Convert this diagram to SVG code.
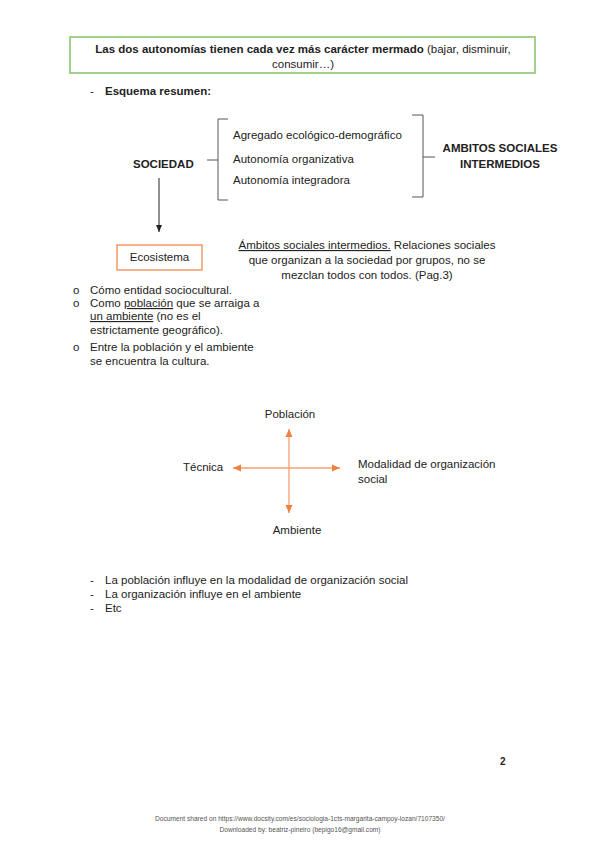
<svg xmlns="http://www.w3.org/2000/svg" width="599" height="848" viewBox="0 0 599 848">
<style>
text{font-family:"Liberation Sans",Arial,sans-serif;font-size:11.5px;fill:#222}
.b{font-weight:bold}
.c{text-anchor:middle}
.u{text-decoration:underline}
.br{fill:none;stroke:#555;stroke-width:1}
.or{stroke:#f4a070;stroke-width:1.3;fill:none}
.ft{font-size:6.6px;fill:#555}
</style>
<defs>
<marker id="ab" markerWidth="8" markerHeight="8" refX="7" refY="4" orient="auto" markerUnits="userSpaceOnUse"><path d="M0,1 L7,4 L0,7z" fill="#222"/></marker>
<marker id="ao" markerWidth="10" markerHeight="10" refX="8" refY="4" orient="auto" markerUnits="userSpaceOnUse"><path d="M0,0.5 L8,4 L0,7.5z" fill="#f08040"/></marker>
</defs>
<rect width="599" height="848" fill="#fff"/>
<g id="title">
<rect x="70" y="37" width="465" height="36" fill="#fff" stroke="#8cc66a" stroke-width="1.6"/>
<text x="303" y="53" class="c"><tspan class="b">Las dos autonomías tienen cada vez más carácter mermado</tspan> (bajar, disminuir,</text>
<text x="303" y="68" class="c">consumir…)</text>
</g>
<g id="esquema">
<text x="90" y="95">-</text>
<text x="105" y="95" class="b">Esquema resumen:</text>
</g>
<g id="sociedad"><text x="133" y="168" class="b">SOCIEDAD</text></g>
<g id="items">
<text x="233" y="139">Agregado ecológico-demográfico</text>
<text x="233" y="163">Autonomía organizativa</text>
<text x="233" y="184">Autonomía integradora</text>
</g>
<g id="ambitos">
<text x="500" y="152" class="b c">AMBITOS SOCIALES</text>
<text x="500" y="168" class="b c">INTERMEDIOS</text>
</g>
<g id="ecosistema">
<rect x="117" y="245" width="85" height="25" fill="#fff" stroke="#f08a50" stroke-width="1.3"/>
<text x="159.5" y="261" class="c">Ecosistema</text>
</g>
<g id="nota">
<text x="367" y="249" class="c"><tspan class="u">Ámbitos sociales intermedios.</tspan> Relaciones sociales</text>
<text x="367" y="264" class="c">que organizan a la sociedad por grupos, no se</text>
<text x="367" y="279" class="c">mezclan todos con todos. (Pag.3)</text>
</g>
<g id="bullets">
<text x="73" y="294">o</text><text x="90" y="294">Cómo entidad sociocultural.</text>
<text x="73" y="307">o</text><text x="90" y="307">Como <tspan class="u">población</tspan> que se arraiga a</text>
<text x="90" y="320"><tspan class="u">un ambiente</tspan> (no es el</text>
<text x="90" y="334">estrictamente geográfico).</text>
<text x="73" y="351">o</text><text x="90" y="351">Entre la población y el ambiente</text>
<text x="90" y="365">se encuentra la cultura.</text>
</g>
<g id="poblacion"><text x="290" y="418" class="c">Población</text></g>
<g id="tecnica"><text x="183" y="471">Técnica</text></g>
<g id="modalidad"><text x="358" y="468">Modalidad de organización</text><text x="358" y="483">social</text></g>
<g id="ambiente"><text x="297" y="534" class="c">Ambiente</text></g>
<g id="connectors">
<path class="br" d="M228,119 L218,119 L218,160 L207,160 M218,160 L218,200 L228,200"/>
<path class="br" d="M412,115 L423,115 L423,157 L435,157 M423,157 L423,197 L412,197"/>
<line x1="159" y1="178" x2="159" y2="232" stroke="#222" stroke-width="1" marker-end="url(#ab)"/>
<line class="or" x1="289" y1="468" x2="289" y2="429" marker-end="url(#ao)"/>
<line class="or" x1="289" y1="468" x2="289" y2="513" marker-end="url(#ao)"/>
<line class="or" x1="289" y1="468" x2="233" y2="468" marker-end="url(#ao)"/>
<line class="or" x1="289" y1="468" x2="340" y2="468" marker-end="url(#ao)"/>
</g>
<g id="lista">
<text x="90" y="584">-</text><text x="105" y="584">La población influye en la modalidad de organización social</text>
<text x="90" y="598">-</text><text x="105" y="598">La organización influye en el ambiente</text>
<text x="90" y="612">-</text><text x="105" y="612">Etc</text>
</g>
<g id="footer">
<text x="500" y="765" class="b" style="font-size:10px">2</text>
<text x="300" y="821" class="c ft">Document shared on https://www.docsity.com/es/sociologia-1cts-margarita-campoy-lozan/7107350/</text>
<text x="300" y="832" class="c ft">Downloaded by: beatriz-pineiro (bepigo16@gmail.com)</text>
</g>
</svg>
